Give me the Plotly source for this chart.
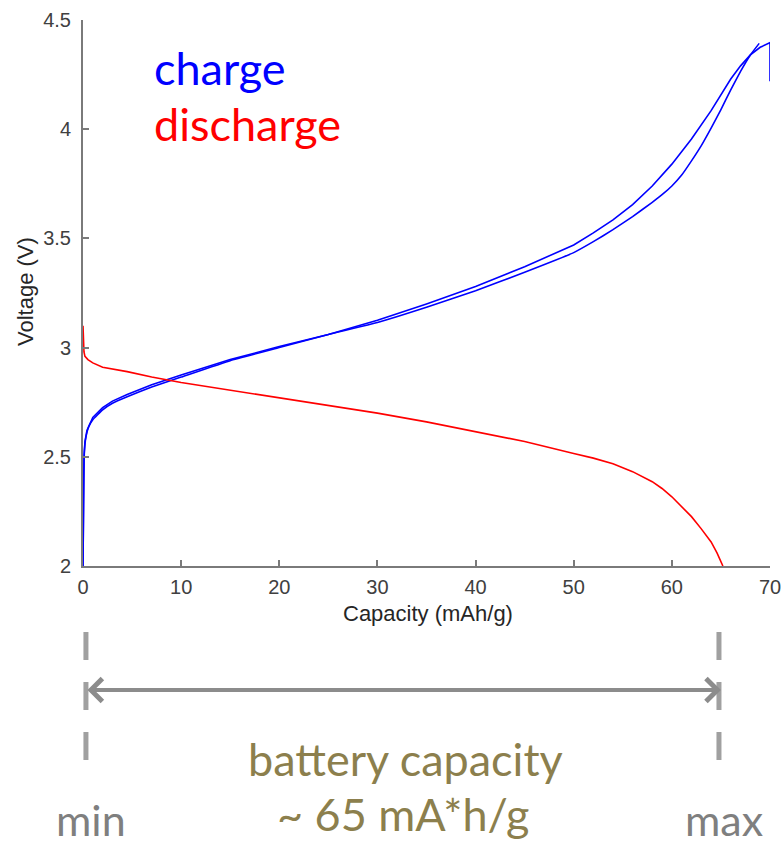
import plotly.graph_objects as go

# ---- data ----
charge1_cap = [0, 0.02, 0.05, 0.1, 0.2, 0.4, 1.0, 2.0, 3.0, 4.5, 7, 10, 15, 20, 25, 30, 35, 40, 45,
               50, 52, 54, 56, 58, 60, 62, 64, 65, 66, 67, 68, 69, 70, 70]
charge1_v = [2.0, 2.1, 2.3, 2.5, 2.57, 2.62, 2.68, 2.725, 2.755, 2.785, 2.83, 2.875, 2.945, 3.005,
             3.06, 3.125, 3.2, 3.28, 3.37, 3.47, 3.525, 3.585, 3.655, 3.74, 3.84, 3.955, 4.085,
             4.16, 4.23, 4.29, 4.34, 4.375, 4.396, 4.22]

charge2_cap = [0, 0.03, 0.08, 0.15, 0.3, 0.6, 1.0, 2.0, 3.0, 4.5, 7, 10, 15, 20, 25, 30, 35, 40, 45,
               50, 52, 54, 56, 58, 59, 60, 61, 62, 63, 64, 65, 66, 67, 68, 68.9]
charge2_v = [2.0, 2.15, 2.4, 2.53, 2.59, 2.64, 2.67, 2.715, 2.745, 2.775, 2.82, 2.865, 2.94, 3.0,
             3.06, 3.115, 3.185, 3.26, 3.345, 3.435, 3.485, 3.54, 3.60, 3.665, 3.70, 3.74, 3.79,
             3.855, 3.925, 4.005, 4.09, 4.18, 4.265, 4.34, 4.393]

discharge_cap = [0, 0.05, 0.1, 0.2, 0.5, 1.0, 2, 4.5, 7, 10, 15, 20, 25, 28, 30, 35, 40, 45, 50,
                 52, 54, 56, 58, 59, 60, 61, 62, 63, 64, 64.6, 65.2]
discharge_v = [3.10, 3.02, 2.98, 2.96, 2.945, 2.93, 2.91, 2.89, 2.865, 2.84, 2.805, 2.77, 2.735,
               2.714, 2.70, 2.66, 2.615, 2.57, 2.515, 2.494, 2.468, 2.432, 2.386, 2.355, 2.317,
               2.273, 2.226, 2.17, 2.11, 2.06, 2.0]

x_ticks = [0, 10, 20, 30, 40, 50, 60, 70]
y_ticks = [2, 2.5, 3, 3.5, 4, 4.5]
capacity_min = 0
capacity_max = 65

BLUE = "#0000FF"
RED = "#FF0000"
OLIVE = "#8C7F4D"
GRAY = "#7F7F7F"

fig = go.Figure()
fig.add_trace(go.Scatter(x=charge1_cap, y=charge1_v, mode="lines", cliponaxis=False,
                         line=dict(color=BLUE, width=1.6), showlegend=False))
fig.add_trace(go.Scatter(x=charge2_cap, y=charge2_v, mode="lines", line_shape="spline",
                         line=dict(color=BLUE, width=1.6, smoothing=0.3), showlegend=False))
fig.add_trace(go.Scatter(x=discharge_cap, y=discharge_v, mode="lines",
                         line=dict(color=RED, width=1.6), showlegend=False))

L, R, T, B = 83, 14, 20, 280
W, H = 784, 846
PW, PH = W - L - R, H - T - B


def px(xp):
    return (xp - L) / PW


def py(yp):
    return (H - B - yp) / PH


axis_font = dict(family="Liberation Sans, Arial, sans-serif", size=20, color="#404040")
common = dict(ticks="inside", ticklen=6, tickcolor="#7a7a7a", tickwidth=1.5,
              showline=True, linecolor="#7a7a7a", linewidth=2, showgrid=False, zeroline=False,
              tickfont=axis_font, automargin=False)
fig.update_layout(
    width=W, height=H,
    margin=dict(l=L, r=R, t=T, b=B),
    paper_bgcolor="white", plot_bgcolor="white",
    xaxis=dict(range=[0, 70], tickvals=x_ticks, ticklabelstandoff=2, **common),
    yaxis=dict(range=[2, 4.5], tickvals=y_ticks, ticklabelstandoff=6, **common),
)

title_font = dict(family="Liberation Sans, Arial, sans-serif", size=22, color="#262626")
fig.add_annotation(xref="paper", yref="paper", showarrow=False, text="Capacity (mAh/g)",
                   x=px(428), y=py(613), xanchor="center", yanchor="middle", font=title_font)
fig.add_annotation(xref="paper", yref="paper", showarrow=False, text="Voltage (V)", textangle=-90,
                   x=px(25), y=py(292), xanchor="center", yanchor="middle", font=title_font)

big = "Lato, 'Open Sans', sans-serif"
anns = [
    dict(text="charge", x=px(152), y=py(68), xanchor="left", yanchor="middle",
         font=dict(family=big, size=45, color=BLUE)),
    dict(text="discharge", x=px(152), y=py(124), xanchor="left", yanchor="middle",
         font=dict(family=big, size=45, color=RED)),
    dict(text="battery capacity", x=px(405), y=py(759), xanchor="center", yanchor="middle",
         font=dict(family=big, size=45, color=OLIVE)),
    dict(text="~ 65 mA*h/g", x=px(403), y=py(814), xanchor="center", yanchor="middle",
         font=dict(family=big, size=45, color=OLIVE)),
    dict(text="min", x=px(91), y=py(819), xanchor="center", yanchor="middle",
         font=dict(family=big, size=43, color=GRAY)),
    dict(text="max", x=px(724), y=py(819), xanchor="center", yanchor="middle",
         font=dict(family=big, size=43, color=GRAY)),
]
for a in anns:
    fig.add_annotation(xref="paper", yref="paper", showarrow=False, **a)

# double headed arrow
fig.add_annotation(xref="x", yref="paper", axref="x", ayref="pixel",
                   x=capacity_max, y=py(690), ax=capacity_min + 0.3, ay=0,
                   text="", showarrow=True, arrowside="end+start", arrowhead=4, startarrowhead=4,
                   arrowsize=1.1, startarrowsize=1.1, arrowwidth=4, arrowcolor="#8C8C8C",
                   standoff=0, startstandoff=0)

# dashed vertical markers
for xv in [capacity_min + 0.3, capacity_max - 0.2]:
    fig.add_shape(type="line", xref="x", yref="paper", x0=xv, x1=xv, y0=py(632), y1=py(770),
                  line=dict(color="#A0A0A0", width=5, dash="28px,22px"))

fig.write_html("out.html", config={"displayModeBar": False},
               post_script="document.body.style.margin='0px';")
